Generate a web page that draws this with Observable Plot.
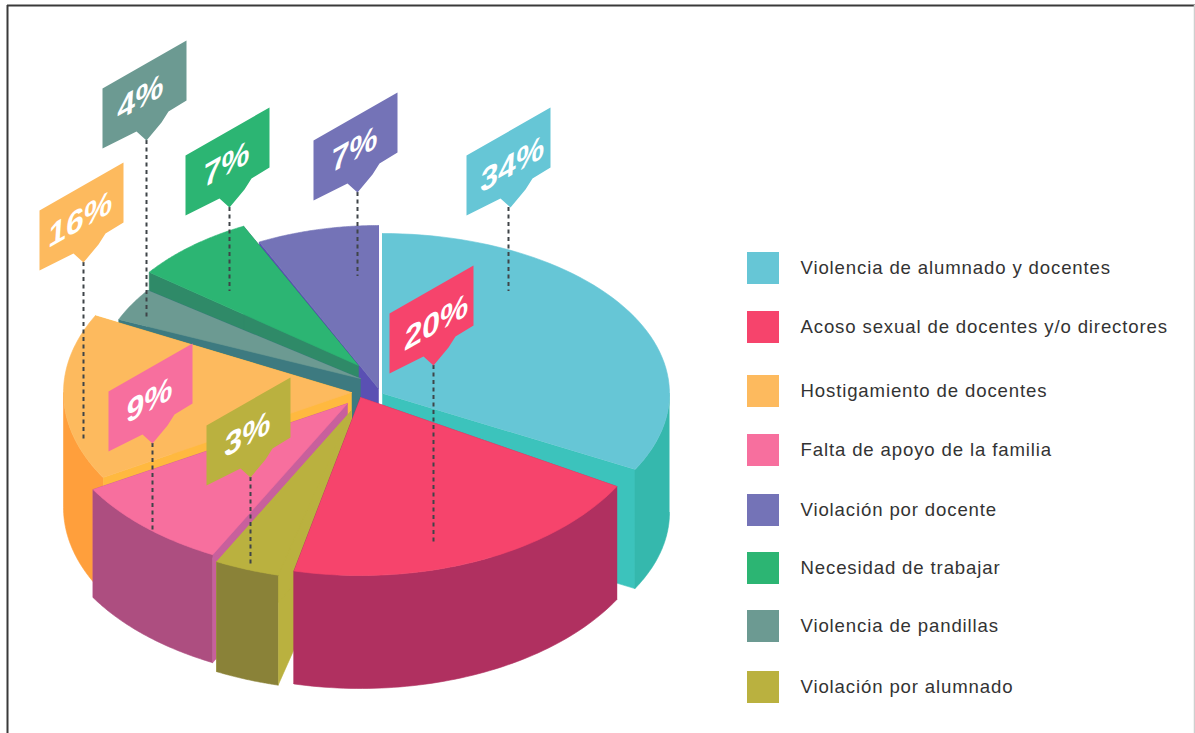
<!DOCTYPE html>
<html>
<head>
<meta charset="utf-8">
<script src="https://cdn.jsdelivr.net/npm/d3@7"></script>
<script src="https://cdn.jsdelivr.net/npm/@observablehq/plot@0.6"></script>
<style>
html,body{margin:0;padding:0;background:#fff;overflow:hidden}
svg{display:block}
svg text{font-family:"Liberation Sans",Arial,Helvetica,sans-serif !important}
</style>
</head>
<body>
<div id="chart"></div>
<script>
// ---- data (clockwise from the top of the pie)
const categories = ["Violencia de alumnado y docentes","Acoso sexual de docentes y/o directores","Violación por alumnado","Falta de apoyo de la familia","Hostigamiento de docentes","Violencia de pandillas","Necesidad de trabajar","Violación por docente"];
const values = [34,20,3,9,16,4,7,7];
const legendOrder = ["Violencia de alumnado y docentes","Acoso sexual de docentes y/o directores","Hostigamiento de docentes","Falta de apoyo de la familia","Violación por docente","Necesidad de trabajar","Violencia de pandillas","Violación por alumnado"];

// ---- styles
const topColors  = ["#66c6d6","#f6446c","#bab13f","#f76f9e","#fdba5e","#6c9a92","#2cb573","#7473b7"];
const cutColors  = ["#3cc3bc","#b03060","#bab13f","#c8609c","#ffb93f","#3d7a80","#2f8a68","#5a50b3"];
const wallColors = ["#35b8ad","#b03060","#8a8238","#ad4e80","#ff9f3c","#4f7a77","#2f8a68","#5a50b3"];

// ---- layout of the exploded slices
const apexX   = [382,360,351,347,351,360,358,378];
const apexY   = [393,397,410,403,392,378,365,388];
const radiusX = [287,296,295,295,288,263,262,272];
const radiusY = [160,178,170,170,168,150,155,163];
const depth   = [119,113,110,108,115,115,115,115];
const startAdj= [0,-2.4,0,2,2,-2,-2.6,-0.8];
const endAdj  = [-4,-1.4,2,2,2,-3.6,-0.8,0];
const paintOrder = [7,6,5,4,0,3,2,1];

// ---- callouts
const tagTipX = [510,433,250,152,83,146,229,357];
const tagTipY = [207,365,477,443,262,140,207,192];
const leaderX = [508,433,250,152,83,146,229,357];
const leaderEnd = [291,544,565,531,442,319,291,276];
const labelShift = [5,6,0,0,0,-3,0,0];
const tagOutline = [[-44,8],[-44,-52],[40,-100],[40,-40],[22,-29],[15,-18],[0,0],[-10,-9]];

// ---- legend
const legendY = [268,327,391,450,510,568,626,687];

// ---- geometry built from the values
const rows = [];
function addPoly(id, color, pts){ pts.forEach(p => rows.push({id, color, x:p[0], y:p[1]})); }
const cum = d3.cumsum(values);
const total = d3.sum(values);
paintOrder.forEach(i => {
  const a0 = ((i ? cum[i-1] : 0)/total)*360 + startAdj[i];
  const a1 = (cum[i]/total)*360 + endAdj[i];
  const rim = t => { const r = t*Math.PI/180; return [apexX[i]+radiusX[i]*Math.sin(r), apexY[i]-radiusY[i]*Math.cos(r)]; };
  const arcOf = (p,q) => d3.range(0,61).map(k => rim(p+(q-p)*k/60));
  const arc = arcOf(a0,a1);
  const apex = [apexX[i],apexY[i]];
  const down = p => [p[0],p[1]+depth[i]];
  addPoly("c0"+i, cutColors[i], [apex, rim(a0), down(rim(a0)), down(apex)]);
  addPoly("c1"+i, cutColors[i], [apex, rim(a1), down(rim(a1)), down(apex)]);
  // only the part of the rim that faces the viewer needs an outer wall
  const f0 = Math.max(a0,90), f1 = Math.min(a1,270);
  if (f1 > f0) {
    const front = arcOf(f0,f1);
    addPoly("w"+i, wallColors[i], [...front, ...front.slice().reverse().map(down)]);
  }
  addPoly("t"+i, topColors[i], [apex, ...arc]);
});
const tagRows = [];
values.forEach((v,i) => tagOutline.forEach(o => tagRows.push({id:i, color:topColors[i], x:tagTipX[i]+o[0], y:tagTipY[i]+o[1]})));
const leaders = values.map((v,i) => ({x:leaderX[i], y1:tagTipY[i], y2:leaderEnd[i]}));
const tagLabels = values.map((v,i) => ({x:tagTipX[i]-3+labelShift[i], y:tagTipY[i]-43, label:v+"%"}));
const legend = legendOrder.map((name,k) => ({name, y:legendY[k], color:topColors[categories.indexOf(name)]}));

const plot = Plot.plot({
  width:1195, height:733, margin:0,
  x:{domain:[0,1195], range:[0,1195], axis:null},
  y:{domain:[0,733], range:[0,733], axis:null},
  color:{type:"identity"},
  style:{background:"#fff"},
  marks:[
    Plot.ruleY([5],{x1:7,x2:1195,stroke:"#3a3a3a",strokeWidth:2}),
    Plot.ruleX([7],{y1:5,y2:733,stroke:"#3a3a3a",strokeWidth:2}),
    Plot.ruleX([1194],{y1:5,y2:733,stroke:"#cfcfcf",strokeWidth:1.5}),
    Plot.line(rows,{x:"x",y:"y",z:"id",fill:"color",stroke:"color",strokeWidth:0.6,curve:"linear"}),
    Plot.ruleX(leaders,{x:"x",y1:"y1",y2:"y2",stroke:"#3f4448",strokeWidth:2,strokeDasharray:"4,3.5"}),
    Plot.line(tagRows,{x:"x",y:"y",z:"id",fill:"color",stroke:"none",curve:"linear"}),
    Plot.text(tagLabels,{x:"x",y:"y",text:"label",fill:"#fff",fontSize:32,fontWeight:"bold",textAnchor:"middle",lineAnchor:"middle",className:"tag-label"}),
    Plot.rect(legend,{x1:()=>747,x2:()=>779,y1:d=>d.y-16,y2:d=>d.y+16,fill:"color"}),
    Plot.text(legend,{x:()=>800,y:"y",text:"name",fill:"#333",fontSize:18.6,textAnchor:"start",lineAnchor:"middle",className:"legend-label"})
  ]
});
d3.select(plot).selectAll(".tag-label text").each(function(){
  const s = d3.select(this);
  s.attr("transform",(s.attr("transform")||"")+" skewY(-29.7) skewX(-4)");
});
d3.select(plot).selectAll(".legend-label text").style("letter-spacing","0.86px");
document.getElementById("chart").appendChild(plot);
</script>
</body>
</html>
